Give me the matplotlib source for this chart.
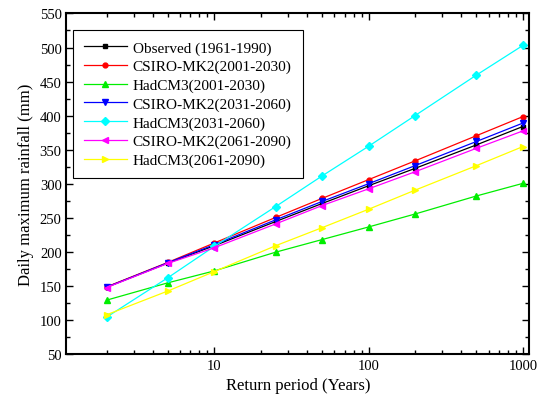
import matplotlib
matplotlib.use("Agg")
import matplotlib.pyplot as plt
from matplotlib.ticker import MultipleLocator, LogLocator, FixedLocator, FixedFormatter, NullFormatter

plt.rcParams['font.family'] = ['Liberation Serif', 'DejaVu Serif']

return_period = [2, 5, 10, 25, 50, 100, 200, 500, 1000]

observed = [148, 183.5, 209, 244.5, 271, 297, 322.5, 357, 384]
csiro_2001 = [148.5, 184.5, 213, 250.5, 278.5, 306, 333.5, 370.5, 398.5]
hadcm3_2001 = [129, 154.5, 172, 199.5, 218, 236.5, 255.5, 282, 300.5]
csiro_2031 = [148, 184, 210.5, 247, 274, 300, 326.5, 362, 389]
hadcm3_2031 = [104, 162, 208, 266.5, 311.5, 355, 400, 459.5, 503]
csiro_2061 = [147.5, 183, 206, 241, 268, 292.5, 317.5, 352, 377.5]
hadcm3_2061 = [107.5, 142.5, 171, 209, 235.5, 262.5, 290.5, 326.5, 354.5]

series = [
    ("Observed (1961-1990)", observed, "black", "s", 2.5),
    ("CSIRO-MK2(2001-2030)", csiro_2001, "red", "o", 3.5),
    ("HadCM3(2001-2030)", hadcm3_2001, "#00ee00", "^", 4.5),
    ("CSIRO-MK2(2031-2060)", csiro_2031, "blue", "v", 4.5),
    ("HadCM3(2031-2060)", hadcm3_2031, "cyan", "D", 3.8),
    ("CSIRO-MK2(2061-2090)", csiro_2061, "magenta", "<", 4.5),
    ("HadCM3(2061-2090)", hadcm3_2061, "yellow", ">", 4.5),
]

fig = plt.figure(figsize=(5.45, 4.02), dpi=100)
ax = fig.add_axes([0.122, 0.117, 0.849, 0.847])

for label, values, color, marker, ms in series:
    ax.plot(return_period, values, color=color, marker=marker, markersize=ms,
            linewidth=0.9, label=label)

ax.set_xscale('log')
ax.set_xlim(1.1, 1100)
ax.set_ylim(50, 550)
ax.xaxis.set_major_locator(FixedLocator([10, 100, 1000]))
ax.xaxis.set_major_formatter(FixedFormatter(['10', '100', '1000']))
ax.xaxis.set_minor_locator(LogLocator(base=10, subs=range(2, 10)))
ax.xaxis.set_minor_formatter(NullFormatter())
ax.yaxis.set_major_locator(MultipleLocator(50))
ax.yaxis.set_minor_locator(MultipleLocator(25))

ax.tick_params(which='both', direction='in', top=True, right=True, labelsize=10.5, width=1.0)
ax.tick_params(which='major', length=5)
ax.tick_params(which='minor', length=3)
for spine in ax.spines.values():
    spine.set_linewidth(1.5)

ax.set_xlabel('Return period (Years)', fontsize=12)
ax.set_ylabel('Daily maximum rainfall (mm)', fontsize=12)

leg = ax.legend(loc='upper left', bbox_to_anchor=(0.0136, 0.952), borderaxespad=0,
                fontsize=11, frameon=True, fancybox=False, edgecolor='black', framealpha=1,
                handlelength=2.8, borderpad=0.72, labelspacing=0.32, handletextpad=0.4)
leg.get_frame().set_linewidth(0.8)

fig.savefig('out.png', dpi=100)
